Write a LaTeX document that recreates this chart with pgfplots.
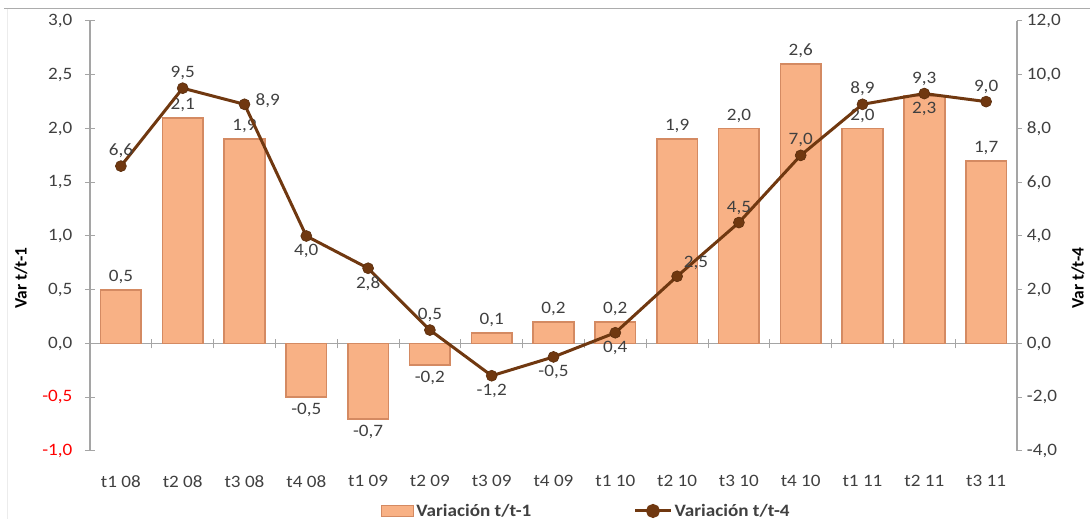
\documentclass[border=0pt]{standalone}
\usepackage{pgfplots}
\pgfplotsset{compat=1.18}
\usepackage{pgfplotstable}
\usepackage{fontspec}
\setmainfont{Carlito}

\newcommand{\chartfont}{\fontsize{17.4}{20.9}\selectfont}
\definecolor{txt}{RGB}{64,64,64}
\definecolor{axgray}{RGB}{165,165,165}
\definecolor{barmid}{RGB}{248,177,133}
\definecolor{barline}{RGB}{212,138,98}
\definecolor{linebrown}{RGB}{112,56,16}

\pgfplotsset{
  /pgf/number format/.cd, use comma, fixed, fixed zerofill, precision=1, assume math mode=true,
}
\pgfplotsset{
  vlabel/.style={draw=none, mark=none, forget plot,
    nodes near coords={\pgfmathprintnumber{\pgfplotspointmeta}},
    every node near coord/.append style={anchor=#1, text=txt, xscale=1.1}},
}

% quarterly change over previous quarter (bars, left axis)
\pgfplotstableread{
x v
0 0.5
1 2.1
2 1.9
3 -0.5
4 -0.7
5 -0.2
6 0.1
7 0.2
8 0.2
9 1.9
10 2.0
11 2.6
12 2.0
13 2.3
14 1.7
}\quarterly

% change over same quarter of previous year (line, right axis)
\pgfplotstableread{
x v
0 6.6
1 9.5
2 8.9
3 4.0
4 2.8
5 0.5
6 -1.2
7 -0.5
8 0.4
9 2.5
10 4.5
11 7.0
12 8.9
13 9.3
14 9.0
}\yearly

\begin{document}
\begin{tikzpicture}[font=\chartfont]
\path[use as bounding box] (-90pt,-70pt) rectangle (1000pt,451pt);
\draw[gray!65, line width=1pt] (-86pt,442pt) -- (1000pt,442pt);
\draw[gray!15, line width=1pt] (-82pt,442pt) -- (-82pt,-68pt);

\begin{axis}[
  scale only axis, width=927pt, height=430pt,
  at={(0,0)}, anchor=south west,
  xmin=-0.5, xmax=14.5, ymin=-1, ymax=3,
  axis y line*=left, axis x line*=bottom,
  x axis line style={draw=none},
  y axis line style={axgray, line width=1.2pt},
  xtick={0,...,14},
  xticklabels={t1 08,t2 08,t3 08,t4 08,t1 09,t2 09,t3 09,t4 09,t1 10,t2 10,t3 10,t4 10,t1 11,t2 11,t3 11},
  xtick style={draw=none},
  xticklabel style={text=txt, xscale=1.1, yshift=-21pt},
  ytick={-1,-0.5,0,0.5,1,1.5,2,2.5,3},
  yticklabels={{\color{red}-1,0},{\color{red}-0,5},{0,0},{0,5},{1,0},{1,5},{2,0},{2,5},{3,0}},
  ytick style={axgray, line width=1pt},
  ytick align=center, major tick length=10pt,
  yticklabel style={text=txt, xscale=1.1, xshift=-8pt},
  ylabel={Var t/t-1},
  every axis y label/.style={at={(rel axis cs:0,0.402)}, xshift=-69pt, rotate=90, anchor=center, font=\chartfont\bfseries, text=black},
  clip=false,
]
\draw[axgray, line width=1.2pt] (axis cs:-0.5,0) -- (axis cs:14.5,0);
\pgfplotsinvokeforeach{0,...,13}{
  \draw[axgray, line width=1pt] (axis cs:#1+0.5,-0.045) -- (axis cs:#1+0.5,0.045);
}
\addplot[
  ybar, bar width=0.66, bar shift=0pt, draw=barline, line width=1.6pt, fill=barmid,
] table[x=x, y=v] {\quarterly};
% value labels of the bars
\addplot[vlabel={south}, every node near coord/.append style={inner sep=6pt}] coordinates {
  (0,0.5) (1,2.1) (2,1.9) (6,0.1) (7,0.2) (8,0.2) (9,1.9) (10,2.0) (11,2.6) (12,2.0) (14,1.7)};
\addplot[vlabel={north}, every node near coord/.append style={inner sep=6pt}] coordinates {
  (3,-0.5) (4,-0.7) (5,-0.2) (13,2.3)};
\end{axis}

\begin{axis}[
  scale only axis, width=927pt, height=430pt,
  at={(0,0)}, anchor=south west,
  xmin=-0.5, xmax=14.5, ymin=-4, ymax=12,
  axis y line*=right, axis x line=none,
  y axis line style={axgray, line width=1.2pt},
  ytick={-4,-2,...,12},
  ytick style={axgray, line width=1pt},
  ytick align=outside, major tick length=5pt,
  yticklabel style={text=txt, xscale=1.1, xshift=1pt},
  ylabel={Var t/t-4},
  every axis y label/.style={at={(rel axis cs:1,0.402)}, xshift=61pt, rotate=90, anchor=center, font=\chartfont\bfseries, text=black},
  clip=false,
  legend style={at={(rel axis cs:0.5356,-0.1395)}, anchor=center, draw=none, fill=none,
    legend columns=2, font=\chartfont\bfseries, text=txt,
    nodes={inner sep=2pt, xscale=1.1},
    /tikz/every even column/.append style={column sep=100pt}},
  legend cell align=left,
]
\addlegendimage{legend image code/.code={
  \draw[draw=barline, line width=1pt, fill=barmid]
    (0pt,-5.5pt) rectangle (32pt,5.5pt);}}
\addlegendentry{Variación t/t-1}
\addplot[
  linebrown, line width=3pt, mark=*, mark size=5.5pt,
  mark options={fill=linebrown, draw=linebrown!80!black, line width=0.6pt},
  legend image code/.code={
    \draw[linebrown, line width=3pt] (0pt,0pt) -- (36pt,0pt);
    \fill[linebrown] (18pt,0pt) circle (5.5pt);},
] table[x=x, y=v] {\yearly};
\addlegendentry{Variación t/t-4}
% value labels of the line
\addplot[vlabel={south}, every node near coord/.append style={inner sep=8pt}] coordinates {
  (0,6.6) (1,9.5) (5,0.5) (10,4.5) (11,7.0) (12,8.9) (13,9.3) (14,9.0)};
\addplot[vlabel={south west}, every node near coord/.append style={inner sep=6pt}] coordinates {(9,2.5)};
\addplot[vlabel={north}, every node near coord/.append style={inner sep=8pt}] coordinates {
  (3,4.0) (4,2.8) (6,-1.2) (7,-0.5) (8,0.4)};
\addplot[vlabel={west}, every node near coord/.append style={inner sep=10pt, yshift=4pt}] coordinates {(2,8.9)};
\end{axis}
\end{tikzpicture}
\end{document}
